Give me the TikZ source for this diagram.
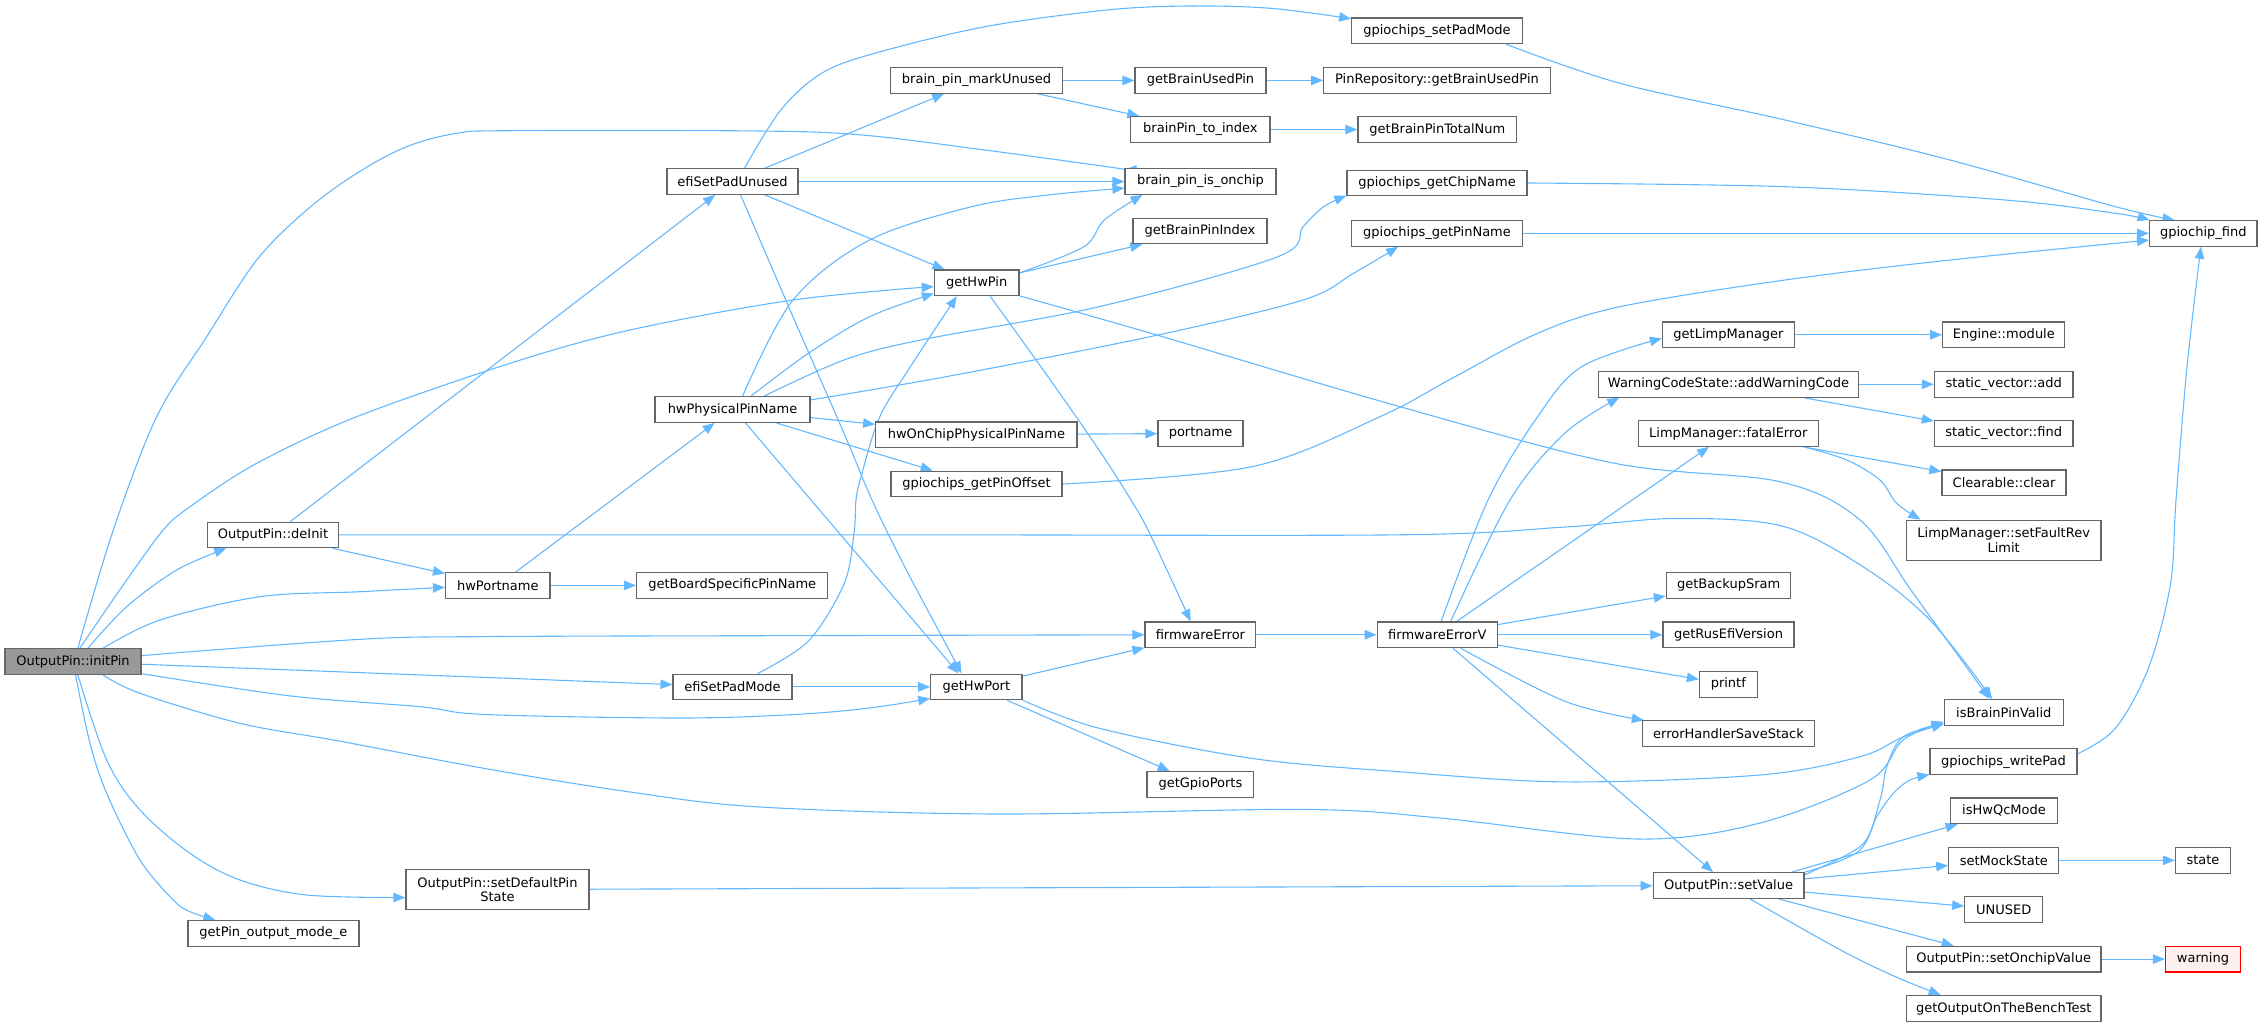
\documentclass[tikz,border=0pt]{standalone}
\usepackage{fontspec}
\setmainfont{DejaVu Sans}
\usetikzlibrary{arrows.meta}
\definecolor{edgec}{HTML}{63B8FF}
\definecolor{bordc}{HTML}{666666}
\definecolor{rootc}{HTML}{999999}
\definecolor{warnfill}{HTML}{FFF0F0}
\pgfdeclarelayer{bg}
\pgfsetlayers{bg,main}
\begin{document}
\begin{tikzpicture}[x=1pt,y=1pt,
  box/.style={draw=bordc, line width=1.2pt, fill=white, rectangle, inner sep=0pt,
    minimum height=25.6pt, align=center, font=\fontsize{13}{14.5}\selectfont},
  rootbox/.style={box, fill=rootc},
  warnbox/.style={box, draw=red, fill=warnfill},
  edge/.style={draw=edgec, line width=1.1pt, -{Triangle[length=12pt,width=9.5pt]}},
  sm/.style={smooth, tension=0.55}
]
\useasboundingbox (0,0) rectangle (2263,-1026);

% ---------- nodes ----------
\node[rootbox, minimum width=136pt] (initPin) at (73,-661.6) {OutputPin::initPin};
\node[box, minimum width=131pt] (deInit) at (273,-534.9) {OutputPin::deInit};
\node[box, minimum width=104.5pt] (hwPortname) at (497.8,-585.4) {hwPortname};
\node[box, minimum width=191.3pt] (boardPin) at (732.2,-585.4) {getBoardSpecificPinName};
\node[box, minimum width=131pt] (efiUnused) at (732.5,-181.5) {efiSetPadUnused};
\node[box, minimum width=155pt] (hwPhys) at (732.5,-409.5) {hwPhysicalPinName};
\node[box, minimum width=119pt] (efiMode) at (732.5,-686.9) {efiSetPadMode};
\node[box, minimum width=183pt, minimum height=40pt] (setDefault) at (497.5,-889.5) {OutputPin::setDefaultPin\\State};
\node[box, minimum width=171pt] (getPinMode) at (273.4,-933.4) {getPin\_output\_mode\_e};
\node[box, minimum width=170.5pt] (setPadMode) at (1437,-30.8) {gpiochips\_setPadMode};
\node[box, minimum width=172pt] (markUnused) at (976.5,-80.4) {brain\_pin\_markUnused};
\node[box, minimum width=131pt] (usedPin) at (1200.5,-80.4) {getBrainUsedPin};
\node[box, minimum width=226.5pt] (pinRepo) at (1437,-80.4) {PinRepository::getBrainUsedPin};
\node[box, minimum width=139.2pt] (toIndex) at (1200.4,-129.5) {brainPin\_to\_index};
\node[box, minimum width=158.8pt] (totalNum) at (1437.3,-129.5) {getBrainPinTotalNum};
\node[box, minimum width=151pt] (onchip) at (1200.5,-181.5) {brain\_pin\_is\_onchip};
\node[box, minimum width=180pt] (chipName) at (1437,-183) {gpiochips\_getChipName};
\node[box, minimum width=134pt] (pinIndex) at (1200,-231) {getBrainPinIndex};
\node[box, minimum width=170.5pt] (pinName) at (1437,-233.4) {gpiochips\_getPinName};
\node[box, minimum width=107.4pt] (chipFind) at (2203.3,-233.4) {gpiochip\_find};
\node[box, minimum width=84.6pt] (getHwPin) at (976.7,-282.8) {getHwPin};
\node[box, minimum width=201.3pt] (onChipName) at (976.4,-434.7) {hwOnChipPhysicalPinName};
\node[box, minimum width=85pt] (portname) at (1200.5,-433.4) {portname};
\node[box, minimum width=171pt] (pinOffset) at (976.5,-484) {gpiochips\_getPinOffset};
\node[box, minimum width=110.8pt] (fwError) at (1200.4,-634.8) {firmwareError};
\node[box, minimum width=91.2pt] (getHwPort) at (976.4,-686.9) {getHwPort};
\node[box, minimum width=106.8pt] (gpioPorts) at (1200.4,-784.4) {getGpioPorts};
\node[box, minimum width=120.2pt] (fwErrorV) at (1437.3,-634.8) {firmwareErrorV};
\node[box, minimum width=132.1pt] (limpMgr) at (1728.5,-334.8) {getLimpManager};
\node[box, minimum width=122.1pt] (engModule) at (2003.8,-334.8) {Engine::module};
\node[box, minimum width=259.7pt] (addWarn) at (1728.5,-384.3) {WarningCodeState::addWarningCode};
\node[box, minimum width=138.6pt] (svAdd) at (2003.7,-384.3) {static\_vector::add};
\node[box, minimum width=180pt] (fatalErr) at (1728.3,-433.5) {LimpManager::fatalError};
\node[box, minimum width=138.6pt] (svFind) at (2003.7,-433.5) {static\_vector::find};
\node[box, minimum width=124pt] (clearN) at (2004,-482.7) {Clearable::clear};
\node[box, minimum width=194.7pt, minimum height=40.3pt] (faultRev) at (2003.7,-540.3) {LimpManager::setFaultRev\\Limit};
\node[box, minimum width=124.4pt] (backupSram) at (1728.6,-585.4) {getBackupSram};
\node[box, minimum width=131pt] (rusVersion) at (1728.5,-634.8) {getRusEfiVersion};
\node[box, minimum width=57.8pt] (printfN) at (1728.3,-684.4) {printf};
\node[box, minimum width=118.9pt] (pinValid) at (2003.8,-712.3) {isBrainPinValid};
\node[box, minimum width=171.7pt] (saveStack) at (1728.5,-733.6) {errorHandlerSaveStack};
\node[box, minimum width=147pt] (writePad) at (2003.5,-761.6) {gpiochips\_writePad};
\node[box, minimum width=107.3pt] (qcMode) at (2004,-810.8) {isHwQcMode};
\node[box, minimum width=110.1pt] (mockState) at (2003.8,-860.3) {setMockState};
\node[box, minimum width=55pt] (stateN) at (2203,-860.3) {state};
\node[box, minimum width=150.8pt] (setValue) at (1728.6,-885.5) {OutputPin::setValue};
\node[box, minimum width=78.1pt] (unusedN) at (2003.8,-909.6) {UNUSED};
\node[box, minimum width=194.7pt] (onchipValue) at (2003.7,-959.1) {OutputPin::setOnchipValue};
\node[warnbox, minimum width=74.9pt] (warningN) at (2203,-959.1) {warning};
\node[box, minimum width=194.7pt] (benchTest) at (2003.7,-1008.4) {getOutputOnTheBenchTest};

% ---------- edges ----------
\begin{pgfonlayer}{bg}
% straight
\draw[edge] (initPin) -- (efiMode);
\draw[edge] (deInit) -- (efiUnused);
\draw[edge] (deInit) -- (hwPortname);
\draw[edge] (hwPortname) -- (boardPin);
\draw[edge] (hwPortname) -- (hwPhys);
\draw[edge] (efiUnused) -- (markUnused);
\draw[edge] (efiUnused) -- (onchip);
\draw[edge] (efiUnused) -- (getHwPin);
\draw[edge] (hwPhys) -- (onChipName);
\draw[edge] (hwPhys) -- (pinOffset);
\draw[edge] (hwPhys.314) -- (getHwPort.143);
\draw[edge] (efiMode) -- (getHwPort);
\draw[edge] (setDefault) -- (setValue);
\draw[edge] (markUnused) -- (usedPin);
\draw[edge] (markUnused) -- (toIndex);
\draw[edge] (usedPin) -- (pinRepo);
\draw[edge] (toIndex) -- (totalNum);
\draw[edge] (getHwPin) -- (pinIndex);
\draw[edge] (onChipName) -- (portname);
\draw[edge] (pinName) -- (chipFind);
\draw[edge] (getHwPort) -- (fwError);
\draw[edge] (getHwPort) -- (gpioPorts);
\draw[edge] (fwError) -- (fwErrorV);
\draw[edge] (fwErrorV) -- (fatalErr);
\draw[edge] (fwErrorV) -- (backupSram);
\draw[edge] (fwErrorV) -- (rusVersion);
\draw[edge] (fwErrorV) -- (printfN);
\draw[edge] (fwErrorV) -- (setValue);
\draw[edge] (limpMgr) -- (engModule);
\draw[edge] (addWarn) -- (svAdd);
\draw[edge] (addWarn) -- (svFind);
\draw[edge] (fatalErr) -- (clearN);
\draw[edge] (setValue.12) -- (qcMode);
\draw[edge] (setValue.5) -- (mockState);
\draw[edge] (setValue) -- (unusedN);
\draw[edge] (setValue) -- (onchipValue);
\draw[edge] (mockState) -- (stateN);
\draw[edge] (onchipValue) -- (warningN);
% curved
\draw[edge] plot[sm] coordinates {(initPin.70) (113.3,-530) (156.7,-416.7) (206.7,-336.7) (256.7,-260) (306.7,-210) (356.7,-173.3) (406.7,-146.7) (456.7,-133.3) (510,-130.7) (760,-131) (862,-135) (985,-150) (1107,-166.7) (onchip.171)};
\draw[edge] plot[sm] coordinates {(initPin.42) (126.7,-606.7) (176.7,-570) (deInit.196)};
\draw[edge] plot[sm] coordinates {(initPin.24) (160,-620) (260,-596.7) (360,-591.7) (hwPortname.182)};
\draw[edge] plot[sm] coordinates {(initPin.63) (126.7,-580) (163.3,-530) (190,-506.7) (256.7,-463.3) (356.7,-416.7) (510,-363.3) (630,-330) (793,-300) (getHwPin.185)};
\draw[edge] plot[sm] coordinates {(initPin.5) (360,-639.3) (485,-636.6) (800,-635.6) (fwError.180)};
\draw[edge] plot[sm] coordinates {(initPin.350) (291,-696) (420,-706.7) (485,-714.5) (678.6,-718) (793,-714.6) (869.6,-708) (getHwPort.194)};
\draw[edge] plot[sm] coordinates {(initPin.336) (140,-693.3) (240,-723.3) (339,-741) (485,-768.5) (630,-792) (760,-807) (997,-814) (1303,-809.4) (1440,-818) (1637,-839) (1760,-823) (1870,-780) (1903,-740) (pinValid.189)};
\draw[edge] plot[sm] coordinates {(initPin.290) (106.7,-760) (140,-810) (190,-853.3) (240,-880) (306.7,-895) (setDefault.185)};
\draw[edge] plot[sm] coordinates {(initPin.281) (90,-743.3) (106.7,-793.3) (140,-860) (173.3,-900) (190,-911.7) (getPinMode.167)};
\draw[edge] plot[sm] coordinates {(deInit.0) (900,-534.8) (1400,-534.8) (1565,-527) (1675,-518.5) (1782,-526) (1863,-566.7) (1930,-620) (pinValid.131)};
\draw[edge] plot[sm] coordinates {(efiUnused.48) (780.8,-110) (821.6,-73.3) (874.7,-53.3) (985,-26.7) (1107,-10) (1189,-6) (1270.6,-8.3) (setPadMode.172)};
\draw[edge] plot[sm] coordinates {(efiUnused.301) (793,-316.7) (844,-433.3) (872,-500) (905,-567.4) (946,-644.3) (getHwPort.138)};
\draw[edge] plot[sm] coordinates {(hwPhys.53) (793,-300) (869.6,-240) (971.6,-206.7) (1048,-195) (onchip.185)};
\draw[edge] plot[sm] coordinates {(hwPhys.36) (808.4,-353.3) (869.6,-316.7) (getHwPin.194)};
\draw[edge] plot[sm] coordinates {(hwPhys.23) (844,-360) (920.6,-340) (1099,-306.7) (1277.8,-256.7) (1303,-226.7) (1323.7,-206.7) (chipName.188)};
\draw[edge] plot[sm] coordinates {(hwPhys.7) (946,-376.7) (1150,-336.7) (1303,-300) (1354,-273) (pinName.199)};
\draw[edge] plot[sm] coordinates {(efiMode.28) (808.4,-641) (844,-584) (854,-533.5) (856,-500) (861,-476.7) (879.8,-416.7) (910.4,-366.7) (getHwPin.214)};
\draw[edge] plot[sm] coordinates {(getHwPin.13) (1083.9,-246.7) (1104.3,-220) (onchip.193)};
\draw[edge] plot[sm] coordinates {(getHwPin.315) (1048,-376.7) (1099,-450) (1131,-500) (1150,-534) (fwError.126)};
\draw[edge] plot[sm] coordinates {(getHwPin.343) (1150,-333) (1400,-406.7) (1614.6,-463.3) (1780,-481.7) (1860,-520) (1913,-593) (pinValid.137)};
\draw[edge] plot[sm] coordinates {(getHwPort.344) (1099,-728.2) (1252,-758.4) (1400,-771.8) (1565,-781.9) (1760,-775) (1860,-756.7) (1903,-737) (pinValid.191)};
\draw[edge] plot[sm] coordinates {(pinOffset.0) (1252,-466.7) (1380,-416.7) (1455,-376.7) (1537.6,-333.3) (1620,-306.7) (1785,-280) (1950,-260) (chipFind.187)};
\draw[edge] plot[sm] coordinates {(setPadMode.349) (1620,-83.3) (1785,-120) (1950,-160) (2115.5,-206.7) (chipFind.155)};
\draw[edge] plot[sm] coordinates {(chipName.0) (1785,-186.7) (2005,-200) (2115.5,-213.3) (chipFind.166)};
\draw[edge] plot[sm] coordinates {(writePad.6) (2115.5,-728.2) (2148.5,-667.8) (2170.5,-583.9) (2176,-500) (2187,-366.7) (chipFind.260)};
\draw[edge] plot[sm] coordinates {(fatalErr.350) (1846.7,-460) (1880,-480) (1896.7,-503.3) (faultRev.166)};
\draw[edge] plot[sm] coordinates {(fwErrorV.74) (1488,-500) (1537.6,-416.7) (1581.6,-366.7) (limpMgr.183)};
\draw[edge] plot[sm] coordinates {(fwErrorV.45) (1510,-500) (1565,-433) (addWarn.187)};
\draw[edge] plot[sm] coordinates {(fwErrorV.330) (1565,-701.3) (saveStack.171)};
\draw[edge] plot[sm] coordinates {(setValue.328) (1840,-949.7) (1895,-976.5) (benchTest.168)};
\draw[edge] plot[sm] coordinates {(setValue.8) (1860,-846.7) (1876.7,-816.7) (1893.3,-793.3) (1910,-780) (writePad.190)};
\draw[edge] plot[sm] coordinates {(setValue.10) (1860,-850) (1880,-800) (1886.7,-766.7) (1903,-737) (pinValid.190)};
\end{pgfonlayer}
\end{tikzpicture}
\end{document}
